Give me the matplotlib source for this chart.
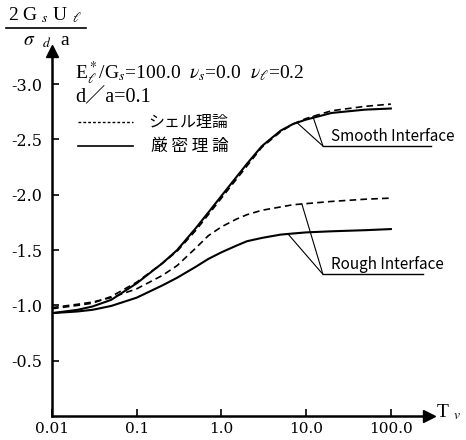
import matplotlib
matplotlib.use("Agg")
import matplotlib.pyplot as plt
import numpy as np

# ---- data ----
T = [0.01, 0.02, 0.03, 0.05, 0.1, 0.2, 0.3, 0.5, 0.7, 1.0, 1.5, 2.0, 3.0, 5.0, 7.0, 10.0, 20.0, 50.0, 100.0]
smooth_exact = [-0.93, -0.96, -0.99, -1.05, -1.20, -1.38, -1.50, -1.70, -1.84, -1.99, -2.16, -2.28, -2.44, -2.58, -2.64, -2.68, -2.74, -2.77, -2.78]
smooth_shell = [-0.97, -1.00, -1.02, -1.08, -1.21, -1.38, -1.49, -1.68, -1.82, -1.97, -2.14, -2.26, -2.43, -2.57, -2.64, -2.69, -2.76, -2.80, -2.82]
rough_shell = [-0.98, -1.01, -1.03, -1.07, -1.15, -1.27, -1.36, -1.52, -1.63, -1.71, -1.78, -1.82, -1.86, -1.89, -1.91, -1.92, -1.94, -1.96, -1.97]
rough_exact = [-0.93, -0.945, -0.96, -0.995, -1.07, -1.18, -1.25, -1.35, -1.42, -1.48, -1.54, -1.58, -1.61, -1.64, -1.65, -1.66, -1.67, -1.68, -1.69]

xticks = [0.01, 0.1, 1.0, 10.0, 100.0]
xticklabels = ["0.01", "0.1", "1.0", "10.0", "100.0"]
yticks = [-3.0, -2.5, -2.0, -1.5, -1.0, -0.5]
yticklabels = ["-3.0", "-2.5", "-2.0", "-1.5", "-1.0", "-0.5"]

plt.rcParams['font.family'] = ['Liberation Serif', 'DejaVu Serif', 'Noto Sans CJK JP']
plt.rcParams['mathtext.fontset'] = 'stix'

W, H = 466, 440
fig = plt.figure(figsize=(W / 100, H / 100), dpi=100)
x0, x1 = 52, 429
ytop, ybot = 51, 416
ax = fig.add_axes([x0 / W, (H - ybot) / H, (x1 - x0) / W, (ybot - ytop) / H])

ax.set_xscale('log')
ax.set_xlim(0.01, 10 ** 2.45)
ax.set_ylim(0, -3.3)

dash = (0, (4.0, 2.5))
ax.plot(T, smooth_exact, color='black', lw=1.5)
ax.plot(T, smooth_shell, color='black', lw=1.2, linestyle=dash)
ax.plot(T, rough_exact, color='black', lw=1.5)
ax.plot(T, rough_shell, color='black', lw=1.2, linestyle=dash)

for s in ['top', 'right']:
    ax.spines[s].set_visible(False)
for s in ['left', 'bottom']:
    ax.spines[s].set_linewidth(1.8)

ax.plot(1, 0, marker='>', color='black', markersize=9, transform=ax.transAxes, clip_on=False)
ax.plot(0, 1, marker='^', color='black', markersize=9, transform=ax.transAxes, clip_on=False)

ax.set_xticks(xticks)
ax.set_xticklabels(xticklabels, fontsize=11, family='DejaVu Serif')
ax.xaxis.set_minor_locator(matplotlib.ticker.NullLocator())
ax.set_yticks(yticks)
ax.set_yticklabels(yticklabels, fontsize=11.5, family='DejaVu Serif')
ax.tick_params(direction='in', length=5, width=1.2, pad=7)
ax.tick_params(axis='x', pad=4)

# y label as a fraction
fig.text(45 / W, 1 - 15 / H, r"2 G $_s$ U $_\ell$", fontsize=14, ha='center', va='center')
fig.add_artist(plt.Line2D([6 / W, 86 / W], [1 - 28 / H, 1 - 28 / H], color='black', lw=1.2))
fig.text(47 / W, 1 - 41 / H, r"$\sigma$  $_d$  a", fontsize=14, ha='center', va='center')

# x label
fig.text(436 / W, 1 - 412 / H, r"T $_v$", fontsize=14, ha='left', va='center')

# parameters text
fig.text(75 / W, 1 - 73 / H, r"E$^*_\ell$/G$_s$=100.0  $\nu_s$=0.0  $\nu_\ell$=0.2", fontsize=14, ha='left', va='center')
fig.text(75 / W, 1 - 97 / H, "d／a=0.1", fontsize=14.5, ha='left', va='center',
         family=['Liberation Serif', 'Noto Sans CJK JP'])

# legend
fig.add_artist(plt.Line2D([78 / W, 133 / W], [1 - 122 / H, 1 - 122 / H], color='black', lw=1.0, linestyle=(0, (2.0, 1.5))))
fig.text(148 / W, 1 - 122 / H, "シェル理論", fontsize=11.5, ha='left', va='center', family=['Noto Sans CJK JP'])
fig.add_artist(plt.Line2D([78 / W, 133 / W], [1 - 146 / H, 1 - 146 / H], color='black', lw=1.2))
fig.text(151 / W, 1 - 146 / H, "厳 密 理 論", fontsize=12, ha='left', va='center', family=['Noto Sans CJK JP'])

# annotations
def yat(series, t):
    return float(np.interp(np.log10(t), np.log10(T), series))

lab = ['Noto Sans CJK JP', 'DejaVu Sans']
# smooth
ax_s = (15.8, -2.44)
ax.plot([ax_s[0], 10 ** 2.47], [ax_s[1], ax_s[1]], color='black', lw=1.0, clip_on=False)
ax.plot([ax_s[0], 7.8], [ax_s[1], yat(smooth_exact, 7.8)], color='black', lw=0.8)
ax.plot([ax_s[0], 12.0], [ax_s[1], yat(smooth_shell, 12.0)], color='black', lw=0.8)
ax.text(19.5, ax_s[1] - 0.01, "Smooth Interface", fontsize=11, ha='left', va='bottom', family=lab)

# rough
ax_r = (15.8, -1.28)
ax.plot([ax_r[0], 10 ** 2.38], [ax_r[1], ax_r[1]], color='black', lw=1.0, clip_on=False)
ax.plot([ax_r[0], 8.9], [ax_r[1], yat(rough_shell, 8.9)], color='black', lw=0.8)
ax.plot([ax_r[0], 6.1], [ax_r[1], yat(rough_exact, 6.1)], color='black', lw=0.8)
ax.text(19.5, ax_r[1] - 0.01, "Rough Interface", fontsize=11, ha='left', va='bottom', family=lab)

fig.savefig("out.png", dpi=100)
